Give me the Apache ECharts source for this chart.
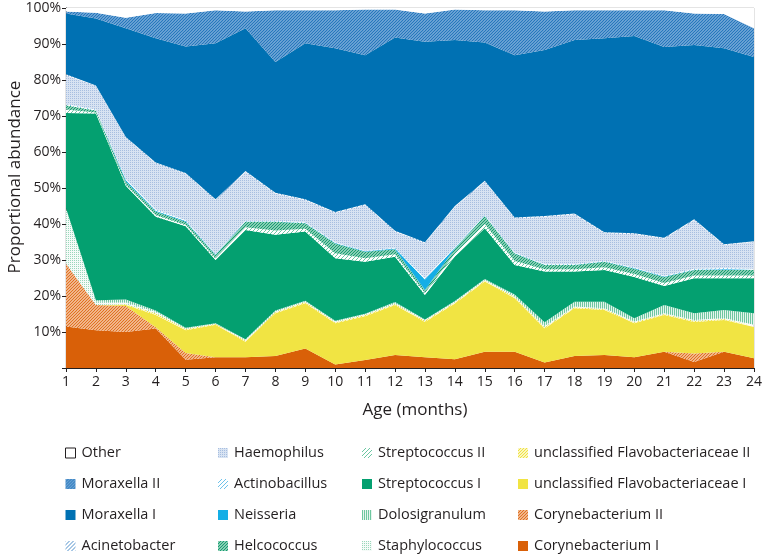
<!DOCTYPE html>
<html><head><meta charset="utf-8">
<script src="https://cdn.jsdelivr.net/npm/echarts@6/dist/echarts.min.js"></script>
<style>html,body{margin:0;padding:0;background:#fff}#c{width:765px;height:557px}</style>
</head><body><div id="c"></div>
<script>
const months = ['1','2','3','4','5','6','7','8','9','10','11','12','13','14','15','16','17','18','19','20','21','22','23','24'];
const yTicks = ['10%','20%','30%','40%','50%','60%','70%','80%','90%','100%'];
const coryneI   = [11.5,10.5,10.0,11.0,2.3,3.0,3.0,3.3,5.4,1.0,2.2,3.6,3.0,2.4,4.5,4.5,1.5,3.3,3.6,3.0,4.5,1.7,4.5,2.7];
const coryneII  = [17.5,7.0,7.2,0.3,1.9,0,0,0,0,0,0,0,0,0,0,0,0,0,0,0,0,2.3,0,0];
const flavoI    = [0,0,0.3,3.4,6.3,9.0,4.3,11.9,12.6,11.4,12.2,13.9,9.8,15.5,19.5,14.9,9.5,13.3,12.5,9.4,10.2,8.8,8.8,8.7];
const flavoII   = [0,0,0.2,0.5,0.3,0.2,0.3,0.3,0.3,0.3,0.3,0.3,0.3,0.3,0.3,0.3,0.3,0.3,0.3,0.3,0.3,0.3,0.3,0.3];
const staph     = [15.4,1.0,0.5,0.4,0.2,0.1,0.2,0.2,0.2,0.2,0.2,0.2,0.2,0.2,0.2,0.2,0.4,0.2,0.2,0.2,0.2,0.2,0.3,0.3];
const dolo      = [0,0.3,0.8,0.4,0.2,0.1,0.2,0.3,0.2,0.2,0.2,0.3,0.2,0.2,0.2,0.5,1.0,1.3,1.8,0.9,2.3,1.9,2.2,3.2];
const strepI    = [26.4,51.9,31.6,26.0,28.2,17.6,30.3,21.0,19.2,17.4,14.4,12.6,6.8,12.4,14.1,8.2,14.1,8.4,8.8,11.5,5.3,9.7,8.8,9.7];
const strepII   = [1.0,0.3,0.4,0.5,0.4,0.5,0.8,1.2,0.8,1.4,1.0,0.7,0.5,0.8,1.2,1.1,0.6,0.6,0.8,0.8,0.8,0.8,0.8,0.8];
const helco     = [1.2,0.5,0.8,1.0,0.8,0.9,1.5,2.4,1.5,2.7,1.8,1.4,0.9,1.4,2.2,2.1,1.2,1.2,1.5,1.5,1.7,1.5,1.5,1.5];
const neisseria = [0,0,0.4,0.2,0.2,0.1,0.1,0.1,0.1,0.1,0.1,0.2,2.9,0.2,0.1,0.1,0.1,0.1,0.1,0.1,0.1,0.1,0.2,0.1];
const actino    = [0.3,0.3,0.3,0.3,0.3,0.2,0.2,0.2,0.2,0.2,0.2,0.2,0.4,0.2,0.2,0.2,0.2,0.2,0.2,0.2,0.2,0.3,0.4,0.3];
const haemo     = [8.1,6.5,11.5,12.9,12.9,15.0,13.6,7.6,6.2,8.2,12.7,4.5,9.7,11.2,9.3,9.5,13.1,13.8,7.7,9.3,10.4,13.5,6.4,7.4];
const acineto   = [0.2,0.2,0.2,0.2,0.2,0.2,0.2,0.2,0.2,0.2,0.2,0.2,0.2,0.2,0.2,0.2,0.2,0.2,0.2,0.2,0.2,0.2,0.2,0.2];
const moraxI    = [16.9,18.6,30.2,34.5,35.1,43.3,39.7,36.3,43.3,45.5,41.4,53.7,55.7,46.1,38.4,45.1,46.1,48.2,53.9,54.8,53.0,48.4,54.4,51.2];
const moraxII   = [0.5,1.6,2.9,7.0,9.2,9.2,4.6,14.4,9.2,10.6,12.7,7.8,7.9,8.5,9.0,12.5,10.7,8.3,7.8,7.2,10.2,8.8,9.5,8.0];
const other     = [1.0,1.3,2.7,1.4,1.5,0.6,1.0,0.6,0.6,0.6,0.4,0.4,1.5,0.4,0.6,0.6,1.0,0.6,0.6,0.6,0.6,1.5,1.7,5.6];

function tile(s, bg, draw){
  const c=document.createElement('canvas'); c.width=s; c.height=s;
  const g=c.getContext('2d'); if(bg){g.fillStyle=bg; g.fillRect(0,0,s,s);} draw(g,s);
  return {image:c, repeat:'repeat'};
}
function hatch(bg, fg, s, lw){
  return tile(s,bg,(g,s)=>{g.strokeStyle=fg; g.lineWidth=lw; g.beginPath();
    g.moveTo(0,s);g.lineTo(s,0);g.moveTo(-s/2,s/2);g.lineTo(s/2,-s/2);g.moveTo(s/2,s*1.5);g.lineTo(s*1.5,s/2);g.stroke();});
}
function dots(bg, fg, s){ return tile(s,bg,(g)=>{g.fillStyle=fg; g.fillRect(0,0,1,1);}); }
function vlines(bg, fg, s){ return tile(s,bg,(g,s)=>{g.fillStyle=fg; g.fillRect(0,0,1,s);}); }

const P = {
  other:'#ffffff',
  moraxII: hatch('#9fc3e6','#2577bc',3,1.3),
  moraxI: '#0071b3',
  acineto: hatch('#ffffff','#4f8fcb',4,1),
  haemo: dots('#d8e3f2','#a7bee0',2),
  actino: hatch('#ffffff','#6fc2ea',4,1),
  neisseria: '#14aee6',
  helco: hatch('#bfe4d3','#109b6e',3,1.2),
  strepII: hatch('#ffffff','#6cc7a3',4,1),
  strepI: '#04a070',
  dolo: vlines('#e6f5ee','#6ec7a0',2),
  staph: dots('#f5fbf8','#9ad6bb',2),
  flavoII: hatch('#ffffff','#efe13a',3,1.2),
  flavoI: '#f1e443',
  coryneII: hatch('#f8d7bd','#df6d1c',3,1.2),
  coryneI: '#d96008'
};

const seriesDefs = [
  ['Corynebacterium I', coryneI, P.coryneI],
  ['Corynebacterium II', coryneII, P.coryneII],
  ['unclassified Flavobacteriaceae I', flavoI, P.flavoI],
  ['unclassified Flavobacteriaceae II', flavoII, P.flavoII],
  ['Staphylococcus', staph, P.staph],
  ['Dolosigranulum', dolo, P.dolo],
  ['Streptococcus I', strepI, P.strepI],
  ['Streptococcus II', strepII, P.strepII],
  ['Helcococcus', helco, P.helco],
  ['Neisseria', neisseria, P.neisseria],
  ['Actinobacillus', actino, P.actino],
  ['Haemophilus', haemo, P.haemo],
  ['Acinetobacter', acineto, P.acineto],
  ['Moraxella I', moraxI, P.moraxI],
  ['Moraxella II', moraxII, P.moraxII],
  ['Other', other, P.other]
];
const colorOf = {}; seriesDefs.forEach(d=>colorOf[d[0]]=d[2]);

const series = seriesDefs.map(d=>({
  name:d[0], type:'line', stack:'total', data:d[1], symbol:'none', showSymbol:false,
  color:d[2], lineStyle:{width:0, color:d[2]}, itemStyle:{color:d[2]},
  areaStyle:{color:d[2], opacity:1}, emphasis:{disabled:true}, silent:true
}));

const FONT = '"Open Sans", "Noto Sans", sans-serif';
const cols = [
  ['Other','Moraxella II','Moraxella I','Acinetobacter'],
  ['Haemophilus','Actinobacillus','Neisseria','Helcococcus'],
  ['Streptococcus II','Streptococcus I','Dolosigranulum','Staphylococcus'],
  ['unclassified Flavobacteriaceae II','unclassified Flavobacteriaceae I','Corynebacterium II','Corynebacterium I']
];
const colX = [65, 218, 362, 518];
const legends = cols.map((names,i)=>({
  orient:'vertical', left:colX[i], top:445, padding:0,
  itemWidth:10, itemHeight:10, itemGap:15, icon:'rect', selectedMode:false,
  textStyle:{fontFamily:FONT, fontSize:14.5, color:'#231f20', lineHeight:16, padding:[0,0,0,1]},
  data:names.map(n=>({name:n, icon:'rect', itemStyle: n==='Other' ? {color:'#ffffff', borderColor:'#231f20', borderWidth:1} : {color:colorOf[n], borderWidth:0}}))
}));

const chart = echarts.init(document.getElementById('c'), null, {renderer:'canvas'});
chart.setOption({
  animation:false,
  backgroundColor:'#fff',
  grid:{left:66, right:11, top:8, bottom:189, show:true, borderColor:'#c8c8c8', borderWidth:1, backgroundColor:'transparent'},
  legend:legends,
  xAxis:{type:'category', data:months, boundaryGap:false,
    axisLine:{lineStyle:{color:'#231f20', width:1}},
    axisTick:{show:true, length:4, lineStyle:{color:'#231f20'}},
    axisLabel:{fontFamily:FONT, fontSize:14, color:'#231f20', margin:7, interval:0},
    splitLine:{show:false}},
  yAxis:{type:'value', min:0, max:100, interval:10,
    axisLine:{show:true, lineStyle:{color:'#231f20', width:1}},
    axisTick:{show:true, length:4, lineStyle:{color:'#231f20'}},
    axisLabel:{fontFamily:FONT, fontSize:14, color:'#231f20', margin:5,
      formatter:(v)=>{ const i=Math.round(v/10)-1; return i>=0 ? yTicks[i] : ''; }},
    splitLine:{show:false}},
  graphic:[
    {type:'text', x:415, y:410, style:{text:'Age (months)', font:'17px '+FONT, fill:'#231f20', align:'center', verticalAlign:'middle'}},
    {type:'text', x:15, y:177, rotation:Math.PI/2, style:{text:'Proportional abundance', font:'17px '+FONT, fill:'#231f20', align:'center', verticalAlign:'middle'}}
  ],
  series:series
});
</script></body></html>
